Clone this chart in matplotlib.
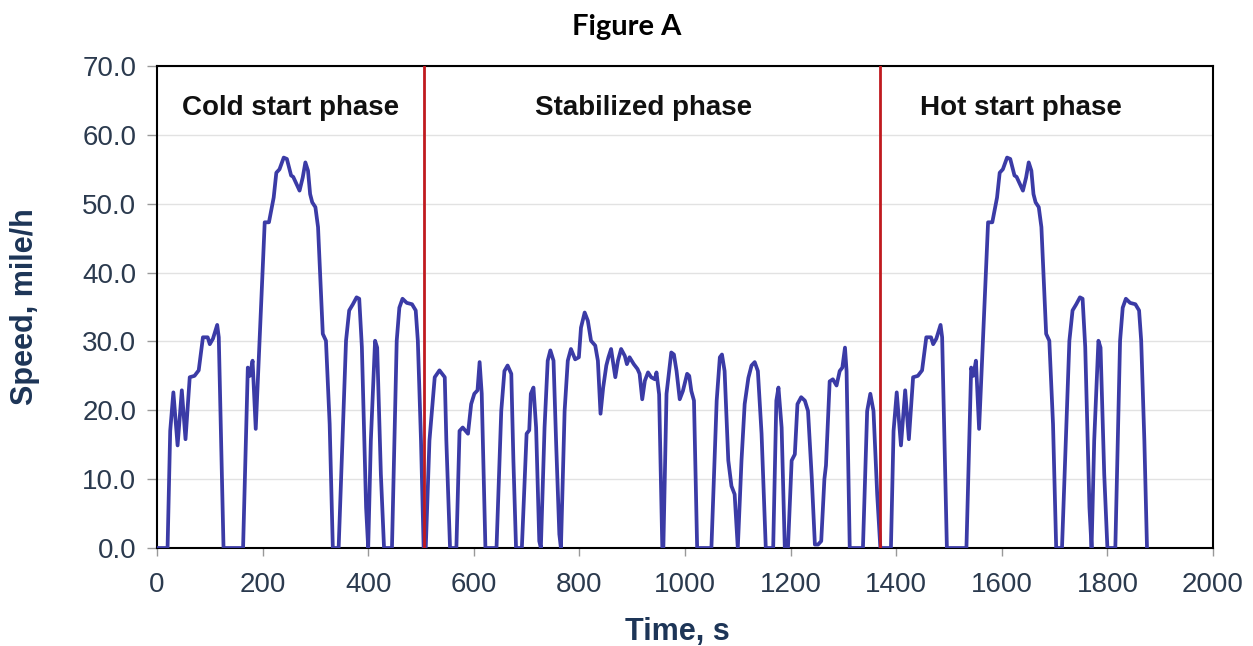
import numpy as np
import matplotlib.pyplot as plt

# ---------------------------------------------------------
# Speed trace (time in s, speed in mile/h)
# ---------------------------------------------------------
cold_t = [0, 20, 25, 31, 39, 47, 54, 62, 71, 79, 87, 96, 100, 106, 114, 117,
          126, 163, 172, 176, 181, 187, 204, 212, 221, 226, 232, 240, 246,
          254, 258, 264, 270, 276, 281, 286, 290, 294, 300, 305, 314, 320,
          327, 333, 344, 358, 364, 371, 378, 383, 388, 396, 400, 405, 413,
          417, 424, 430, 445, 454, 459, 465, 473, 483, 490, 494, 500, 505]
cold_v = [0, 0, 17.0, 22.6, 14.9, 22.9, 15.8, 24.8, 25.0, 25.8, 30.6, 30.6,
          29.6, 30.4, 32.4, 30.6, 0, 0, 26.2, 25.0, 27.2, 17.3, 47.3, 47.3,
          50.9, 54.5, 55.0, 56.7, 56.5, 54.1, 53.9, 52.9, 51.9, 53.8, 56.0,
          54.8, 51.4, 50.2, 49.5, 46.6, 31.1, 30.1, 18.0, 0, 0, 30.1, 34.5,
          35.4, 36.4, 36.2, 29.2, 5.9, 0, 15.6, 30.1, 29.1, 10.7, 0, 0, 30.1,
          34.9, 36.2, 35.6, 35.4, 34.5, 30.1, 15.6, 0]

stab_t = [505, 509, 516, 526, 535, 545, 548, 555, 567, 573, 579, 589, 595,
          601, 607, 611, 615, 622, 643, 652, 658, 664, 671, 675, 680, 691,
          700, 705, 708, 713, 718, 724, 727, 734, 740, 745, 751, 756, 762,
          765, 772, 778, 784, 792, 799, 803, 810, 816, 822, 830, 835, 840,
          845, 851, 855, 860, 868, 873, 879, 886, 890, 895, 903, 910, 914,
          919, 924, 930, 936, 943, 946, 951, 957, 959, 965, 974, 979, 984,
          990, 996, 1004, 1008, 1012, 1017, 1023, 1050, 1060, 1066, 1070,
          1075, 1082, 1088, 1094, 1100, 1107, 1113, 1120, 1126, 1132, 1138,
          1145, 1153, 1167, 1173, 1177, 1183, 1189, 1195, 1202, 1208, 1213,
          1220, 1227, 1233, 1240, 1246, 1252, 1258, 1264, 1267, 1274, 1280,
          1287, 1293, 1298, 1303, 1306, 1312, 1337, 1345, 1351, 1357, 1364,
          1370]
stab_v = [0, 0, 15.6, 24.8, 25.8, 24.8, 15.6, 0, 0, 17.0, 17.5, 16.6, 20.9,
          22.4, 22.9, 27.0, 22.4, 0, 0, 19.9, 25.7, 26.5, 25.3, 12.7, 0, 0,
          16.6, 17.1, 22.4, 23.3, 17.5, 1.0, 0, 17.5, 27.2, 28.7, 27.2, 15.1,
          2.0, 0, 19.9, 27.2, 28.9, 27.4, 27.7, 32.0, 34.2, 33.0, 30.1, 29.4,
          27.2, 19.5, 23.3, 26.5, 27.7, 28.9, 24.8, 27.2, 28.9, 27.9, 26.7,
          27.7, 26.7, 26.0, 25.3, 21.6, 24.3, 25.5, 24.8, 24.5, 25.5, 22.3,
          0, 0, 22.4, 28.4, 28.1, 25.7, 21.6, 22.8, 25.3, 25.0, 22.8, 21.4,
          0, 0, 21.4, 27.7, 28.1, 25.7, 12.7, 9.0, 7.8, 0, 12.7, 20.9, 24.7,
          26.5, 27.0, 25.7, 16.6, 0, 0, 21.4, 23.3, 17.5, 0, 0, 12.7, 13.6,
          20.9, 21.9, 21.4, 19.9, 10.3, 0.5, 0.5, 1.0, 10.0, 12.0, 24.2, 24.5,
          23.6, 25.7, 26.2, 29.1, 25.7, 0, 0, 19.9, 22.4, 19.9, 7.8, 0]

# hot start phase repeats the cold start trace
hot_start = 1370
hot_t = [hot_start + t for t in cold_t]
hot_v = list(cold_v)

phase_bounds = [505, 1370]
phase_names = ['Cold start phase', 'Stabilized phase', 'Hot start phase']
phase_label_t = [253, 922, 1636]

time = np.array(cold_t + stab_t[1:] + hot_t[1:])
speed = np.array(cold_v + stab_v[1:] + hot_v[1:])

# ---------------------------------------------------------
# Plot
# ---------------------------------------------------------
plt.rcParams['font.family'] = ['Liberation Sans', 'DejaVu Sans']

fig = plt.figure(figsize=(12.53, 6.46), dpi=100)
ax = fig.add_axes([157 / 1253, 1 - 548 / 646, 1056 / 1253, 482 / 646])

line_color = '#3b3ba6'
red = '#c01a1f'
navy = '#1d3557'
tick_color = '#2b3a4e'

ax.plot(time, speed, color=line_color, linewidth=2.7, zorder=3,
        solid_joinstyle='round')
for b in phase_bounds:
    ax.axvline(b, color=red, linewidth=2.0, zorder=4)

for name, tx in zip(phase_names, phase_label_t):
    ax.text(tx, 63.9, name, ha='center', va='center', fontsize=20,
            fontweight='bold', color='#111111')

ax.set_xlim(0, 2000)
ax.set_ylim(0, 70)
ax.set_xticks(np.arange(0, 2001, 200))
ax.set_yticks(np.arange(0, 71, 10))
ax.set_yticklabels([f'{v:.1f}' for v in np.arange(0, 71, 10)])

ax.yaxis.grid(True, color='#e2e2e2', linewidth=1.0)
ax.set_axisbelow(True)

for s in ax.spines.values():
    s.set_color('black')
    s.set_linewidth(1.5)

ax.tick_params(axis='x', direction='out', length=6, width=1, color='#999999',
               labelsize=20, labelcolor=tick_color, pad=11)
ax.tick_params(axis='y', direction='out', length=7, width=1, color='#999999',
               labelsize=20, labelcolor=tick_color, pad=8)

ax.set_xlabel('Time, s', fontsize=22, fontweight='bold', color=navy)
ax.set_ylabel('Speed, mile/h', fontsize=22, fontweight='bold', color=navy)
ax.xaxis.set_label_coords(0.493, -0.143)
ax.yaxis.set_label_coords(-0.111, 0.5)

fig.text(0.5004, 1 - 27 / 646, 'Figure A', ha='center', va='center',
         fontsize=21, fontweight='bold', family=['Lato', 'DejaVu Sans'])

fig.savefig('out.png', dpi=100)
